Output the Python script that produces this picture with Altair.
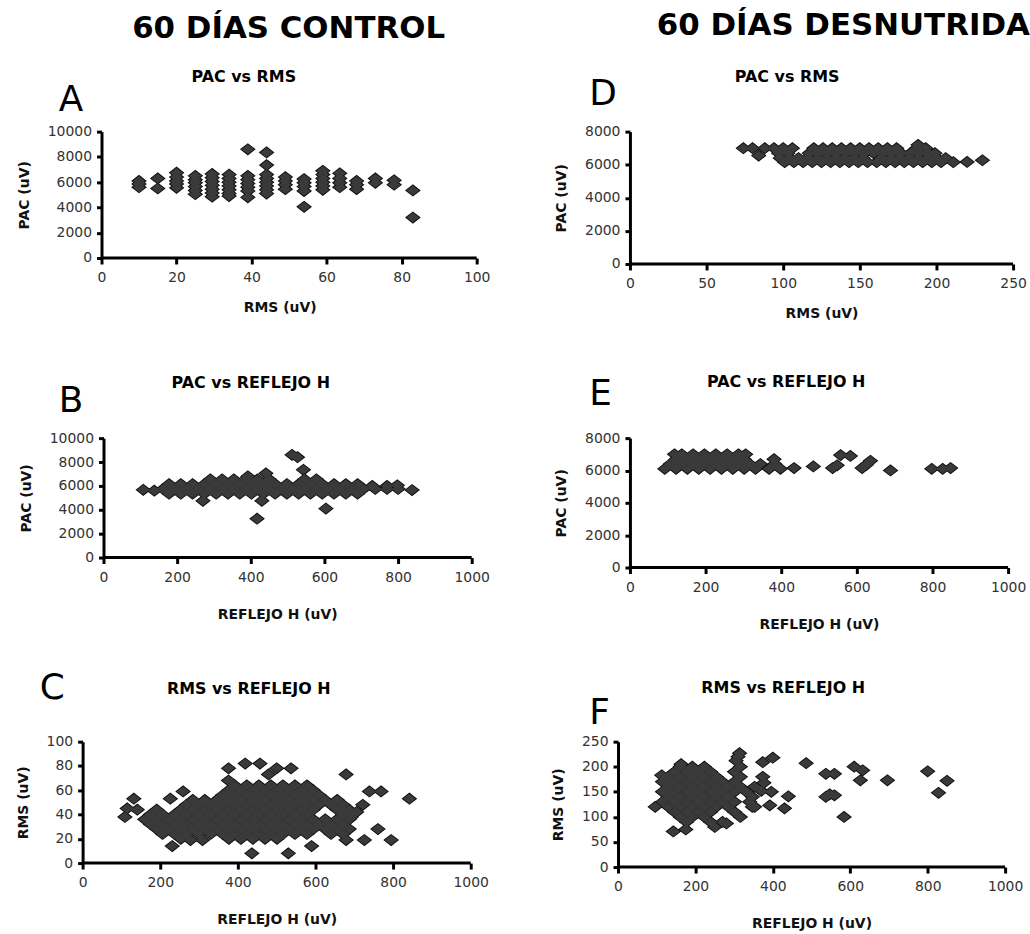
import altair as alt
import pandas as pd

FONT = "DejaVu Sans"
FILL = "#3a3a3a"
EDGE = "#0e0e0e"
DIAMOND = "M-1,0L0,-0.78L1,0L0,0.78Z"

# ---------------- Panel A: PAC vs RMS (control) ----------------
A_RMS = [10, 15, 20, 25, 29.5, 34, 39, 44, 49, 54, 59, 63.5, 68, 73, 78, 83]
A_PAC = [
    [6100, 5850, 5600],
    [6300, 5500],
    [6750, 6400, 6100, 5850, 5550],
    [6500, 6200, 5950, 5650, 5350, 5050],
    [6650, 6350, 6050, 5750, 5450, 5150, 4850],
    [6600, 6300, 6000, 5700, 5400, 5100, 4900],
    [8600, 6500, 6200, 5900, 5600, 5300, 4800],
    [8350, 7350, 6600, 6300, 6000, 5700, 5400, 5100],
    [6400, 6100, 5800, 5450],
    [6250, 5950, 5650, 5300, 4050],
    [6900, 6600, 6300, 6000, 5700, 5400],
    [6700, 6300, 5950, 5600],
    [6100, 5800, 5450],
    [6300, 5950],
    [6150, 5800],
    [5350, 3200],
]

# ---------------- Panel D: PAC vs RMS (desnutrida) ----------------
D_ROW_PAC = [7000, 6700, 6400, 6150]
D_ROW_RMS = [
    [74, 80, 88, 94, 100, 106, 120, 126, 132, 138, 144, 150, 156, 162, 168, 174, 187, 193],
    [97, 103, 117, 123, 129, 135, 141, 147, 153, 159, 165, 171, 177, 183, 189, 195, 199],
    [98, 104, 110, 116, 122, 128, 134, 140, 146, 152, 164, 170, 176, 182, 188, 194, 200, 206],
    [101, 107, 113, 119, 125, 131, 137, 143, 149, 155, 161, 167, 173, 179, 185, 191, 197, 203, 211],
]
D_EXTRA_RMS = [84, 188, 220, 230]
D_EXTRA_PAC = [6550, 7200, 6170, 6270]

# ---------------- Panel B: PAC vs REFLEJO H (control) ----------------
B_ROW_PAC = [5350, 5750, 6150, 6550]
B_ROW_H = [
    [178, 210, 242, 274, 306, 338, 370, 402, 434, 466, 498, 530, 562, 594, 626, 658, 690],
    [162, 194, 226, 258, 290, 322, 354, 386, 418, 450, 482, 514, 546, 578, 610, 642, 674, 706, 738, 770, 800],
    [178, 210, 242, 274, 306, 338, 370, 402, 434, 466, 498, 530, 562, 594, 626, 658, 690],
    [290, 322, 354, 386, 418, 450, 546, 578],
]
B_EXTRA_H = [108, 138, 838, 512, 527, 543, 417, 604, 392, 441, 270, 430, 730, 770, 798]
B_EXTRA_PAC = [5670, 5600, 5650, 8600, 8400, 7350, 3250, 4100, 6800, 7050, 4750, 4750, 6000, 6000, 6050]

# ---------------- Panel E: PAC vs REFLEJO H (desnutrida) ----------------
E_ROW_PAC = [6100, 6400, 6700, 7000]
E_ROW_H = [
    [92, 122, 152, 182, 212, 242, 272, 302, 332, 368, 398],
    [107, 137, 167, 197, 227, 257, 287, 317, 345, 383],
    [122, 152, 182, 212, 242, 272, 302, 381],
    [118, 137, 167, 197, 227, 257, 287, 306],
]
E_EXTRA_H = [434, 485, 536, 548, 557, 583, 614, 625, 636, 689, 798, 827, 848]
E_EXTRA_PAC = [6150, 6250, 6150, 6320, 6950, 6900, 6150, 6350, 6600, 6000, 6100, 6100, 6150]

# ---------------- Panel C: RMS vs REFLEJO H (control) ----------------
C_ROW_RMS = [20, 24, 28, 32, 36, 40, 44, 48, 52, 56, 60, 64]
C_ROW_H = [
    [253, 377, 408, 439, 470, 501],
    [206, 237, 268, 299, 330, 361, 392, 423, 454, 485, 516, 547, 578, 640, 671],
    [191, 222, 253, 284, 315, 346, 377, 408, 439, 470, 501, 532, 563, 594, 625, 656, 687],
    [175, 206, 237, 268, 299, 330, 361, 392, 423, 454, 485, 516, 547, 578, 609, 640, 671],
    [160, 191, 222, 253, 284, 315, 346, 377, 408, 439, 470, 501, 532, 563, 594, 625, 656, 687],
    [175, 206, 237, 268, 299, 330, 361, 392, 423, 454, 485, 516, 547, 578, 671],
    [191, 253, 284, 315, 346, 377, 408, 439, 470, 501, 532, 563, 594, 656, 687],
    [268, 299, 330, 361, 392, 423, 454, 485, 516, 547, 578, 609, 640, 671],
    [284, 315, 346, 377, 408, 439, 470, 501, 532, 563, 594, 625, 656],
    [361, 392, 423, 454, 485, 516, 547, 578, 609],
    [377, 408, 439, 470, 501, 532, 563, 594],
    [392, 423, 454, 485, 516, 547, 578],
]
C_EXTRA_H = [109, 115, 132, 141, 226, 231, 259, 278, 309, 376, 376, 419, 457, 436, 479,
             500, 537, 530, 590, 679, 679, 726, 739, 769, 761, 795, 842, 692, 706, 722]
C_EXTRA_RMS = [38, 45, 53, 44, 53, 14, 59, 19, 19, 78, 68, 82, 82, 8, 73,
               78, 78, 8, 14, 73, 19, 19, 59, 59, 28, 19, 53, 38, 42, 48]

# ---------------- Panel F: RMS vs REFLEJO H (desnutrida) ----------------
F_ROW_RMS = [90, 100, 110, 120, 130, 140, 150, 160, 170, 180, 190, 200]
F_ROW_H = [
    [177, 239, 270],
    [161, 192, 223, 316],
    [146, 177, 208, 239, 301],
    [130, 161, 192, 223, 254, 285, 347],
    [115, 146, 177, 208, 239, 270, 301, 340],
    [130, 161, 192, 223, 254, 285, 347],
    [115, 146, 177, 208, 239, 270, 301, 332],
    [130, 161, 192, 223, 254, 285, 316],
    [115, 146, 177, 208, 239, 270, 301],
    [130, 161, 192, 223, 254, 316],
    [146, 177, 208, 239, 301],
    [161, 192, 223, 316],
]
F_EXTRA_H = [96, 113, 143, 175, 250, 280, 163, 195, 305, 310, 314, 353, 353, 374, 400, 374, 377, 370,
             396, 392, 430, 440, 486, 537, 559, 537, 547, 559, 584, 610, 632, 626, 696, 800, 828, 850]
F_EXTRA_RMS = [120, 183, 71, 75, 80, 87, 205, 196, 212, 220, 227, 160, 120, 209, 218, 180, 168, 152,
               150, 123, 117, 141, 207, 186, 186, 140, 145, 143, 100, 200, 193, 173, 173, 191, 148, 172]


def from_cols(xs, stacks):
    X, Y = [], []
    for x, s in zip(xs, stacks):
        for y in s:
            X.append(x)
            Y.append(y)
    return X, Y


def from_rows(ys, rows, ex_x=(), ex_y=()):
    X, Y = [], []
    for y, r in zip(ys, rows):
        for x in r:
            X.append(x)
            Y.append(y)
    return X + list(ex_x), Y + list(ex_y)


def txt(s, x, y, size, weight="normal", align="left", opacity=1):
    return alt.Chart(pd.DataFrame({"t": [s]})).mark_text(
        font=FONT, fontSize=size, fontWeight=weight, align=align,
        baseline="alphabetic", color="black", opacity=opacity
    ).encode(text="t:N", x=alt.value(x), y=alt.value(y))


def panel(xs, ys, xmax, xvals, ymax, yvals, xtitle, ytitle, w, h,
          letter, lpos, sub, spos, xtp, shift=0, extra=()):
    df = pd.DataFrame({"x": xs, "y": ys})
    xmin = -shift * xmax / w
    xenc = alt.X("x:Q", scale=alt.Scale(domain=[xmin, xmax], nice=False, zero=False),
                 axis=alt.Axis(values=xvals, format="d", title=xtitle, domain=False,
                               tickSize=6, tickWidth=3, tickColor="black",
                               labelFlush=False, labelOverlap=False,
                               labelPadding=7, titlePadding=xtp))
    yenc = alt.Y("y:Q", scale=alt.Scale(domain=[0, ymax], nice=False),
                 axis=alt.Axis(values=yvals, format="d", title=ytitle, offset=-shift,
                               domain=True, domainWidth=3, domainColor="black",
                               tickSize=5, tickWidth=3, tickColor="black",
                               labelFlush=False, labelOverlap=False,
                               labelPadding=5, titlePadding=16))
    base = alt.Chart(df).encode(x=xenc, y=yenc)
    outline = base.mark_point(shape=DIAMOND, size=165, filled=True, color=EDGE,
                              stroke=EDGE, strokeWidth=1.8, opacity=1)
    body = base.mark_point(shape=DIAMOND, size=165, filled=True, color=FILL,
                           strokeWidth=0, opacity=1)
    base_line = pd.DataFrame({"x": [0], "x_end": [xmax], "y": [0]})
    xline = alt.Chart(base_line).mark_rule(color="black", strokeWidth=3).encode(
        x=xenc, x2="x_end:Q", y=yenc)
    layers = [xline, outline, body,
              txt(letter, lpos[0] + shift, lpos[1], 36),
              txt(sub, spos[0] + shift, spos[1], 16, "bold", "center")]
    for e in extra:
        layers.append(txt(e[0], e[1] + shift, e[2], e[3], e[4], e[5], e[6]))
    return alt.layer(*layers).properties(width=w + shift, height=h)


ax, ay = from_cols(A_RMS, A_PAC)
dx, dy = from_rows(D_ROW_PAC, D_ROW_RMS, D_EXTRA_RMS, D_EXTRA_PAC)
bx, by = from_rows(B_ROW_PAC, B_ROW_H, B_EXTRA_H, B_EXTRA_PAC)
ex, ey = from_rows(E_ROW_PAC, E_ROW_H, E_EXTRA_H, E_EXTRA_PAC)
cx, cy = from_rows(C_ROW_RMS, C_ROW_H, C_EXTRA_H, C_EXTRA_RMS)
fx, fy = from_rows(F_ROW_RMS, F_ROW_H, F_EXTRA_H, F_EXTRA_RMS)

H_TICKS = [0, 200, 400, 600, 800, 1000]

pA = panel(ax, ay, 100, [0, 20, 40, 60, 80, 100], 10000, [0, 2000, 4000, 6000, 8000, 10000],
           "RMS (uV)", "PAC (uV)", 377, 127, "A", (-43, -21), "PAC vs RMS", (143, -50), 16, shift=19,
           extra=[("60 DÍAS CONTROL", 188, -94, 31, "bold", "center", 1)])
pD = panel(dx, dy, 250, [0, 50, 100, 150, 200, 250], 8000, [0, 2000, 4000, 6000, 8000],
           "RMS (uV)", "PAC (uV)", 385, 133, "D", (-41, -27), "PAC vs RMS", (158, -50), 16,
           extra=[("60 DÍAS DESNUTRIDA", 27, -97, 31, "bold", "left", 1)])
pB = panel(bx, by, 1000, H_TICKS, 10000, [0, 2000, 4000, 6000, 8000, 10000],
           "REFLEJO H (uV)", "PAC (uV)", 370, 120, "B", (-45, -26), "PAC vs REFLEJO H", (148, -50), 23,
           shift=21, extra=[("B", -45, -50, 36, "normal", "left", 0)])
pE = panel(ex, ey, 1000, H_TICKS, 8000, [0, 2000, 4000, 6000, 8000],
           "REFLEJO H (uV)", "PAC (uV)", 380, 130, "E", (-41, -33), "PAC vs REFLEJO H", (157, -51), 23)
pC = panel(cx, cy, 1000, H_TICKS, 100, [0, 20, 40, 60, 80, 100],
           "REFLEJO H (uV)", "RMS (uV)", 390, 122, "C", (-43, -43), "RMS vs REFLEJO H", (167, -48), 23)
pF = panel(fx, fy, 1000, H_TICKS, 250, [0, 50, 100, 150, 200, 250],
           "REFLEJO H (uV)", "RMS (uV)", 389, 126, "F", (-29, -18), "RMS vs REFLEJO H", (166, -49), 23)

row1 = alt.hconcat(pA, pD, spacing=64)
row2 = alt.hconcat(pB, pE, spacing=65)
row3 = alt.hconcat(pC, pF, spacing=63)

chart = alt.vconcat(row1, row2, row3, spacing=39).properties(
    padding={"left": 16, "top": 8, "right": 0, "bottom": 0},
    background="white",
).configure_view(stroke=None).configure_axis(
    grid=False,
    labelFont=FONT, labelFontSize=14, labelColor="#333333",
    titleFont=FONT, titleFontSize=14, titleFontWeight="bold", titleColor="#111111",
)

chart.save("out.html", embed_options={"renderer": "svg", "actions": False})
